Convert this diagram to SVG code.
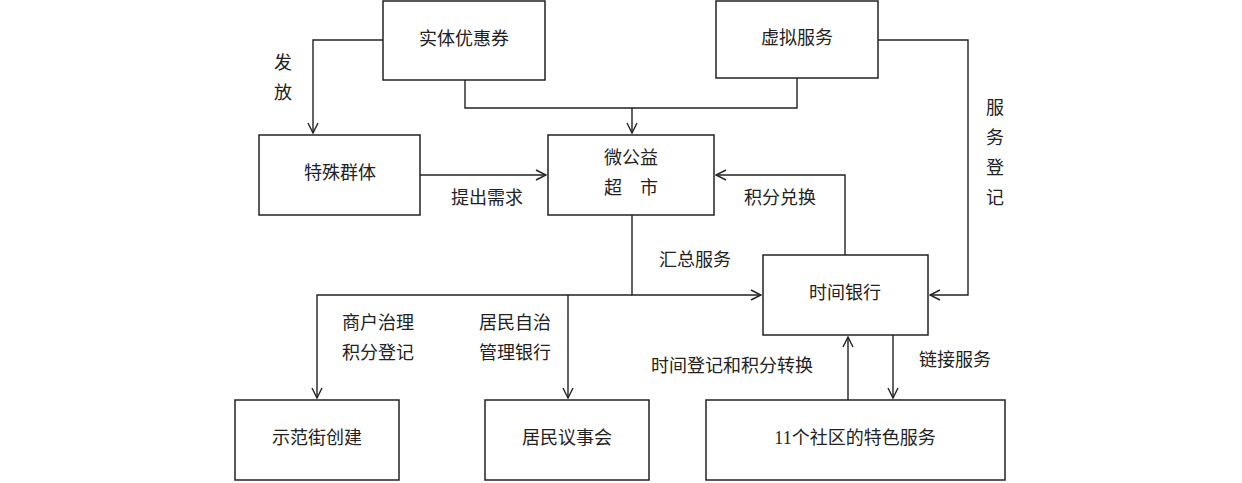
<svg xmlns="http://www.w3.org/2000/svg" width="1242" height="483" viewBox="0 0 1242 483">
<defs>
<marker id="a" viewBox="0 0 12 12" refX="11" refY="6" markerWidth="12" markerHeight="12" markerUnits="userSpaceOnUse" orient="auto"><path d="M1,1 L11,6 L1,11" fill="none" stroke="#222" stroke-width="1.4"/></marker>
<style>
rect{fill:#fff;stroke:#222;stroke-width:1.5}
text{font-family:"Liberation Serif","Noto Sans CJK SC",serif;font-size:18px;fill:#222;text-anchor:middle;dominant-baseline:middle}
.c path{fill:none;stroke:#222;stroke-width:1.4}
.c path.ar{marker-end:url(#a)}
</style>
</defs>
<rect x="0" y="0" width="1242" height="483" style="fill:#fff;stroke:none"/>
<g id="n1"><rect x="383" y="1" width="162" height="79"/><text x="464" y="41">实体优惠券</text></g>
<g id="n2"><rect x="716" y="1" width="162" height="77"/><text x="797" y="40">虚拟服务</text></g>
<g id="n3"><rect x="259" y="135" width="161" height="80"/><text x="340" y="175">特殊群体</text></g>
<g id="n4"><rect x="548" y="135" width="166" height="80"/><text x="631" y="160">微公益</text><text x="631" y="190">超　市</text></g>
<g id="n5"><rect x="763" y="255" width="165" height="80"/><text x="845" y="295">时间银行</text></g>
<g id="n6"><rect x="235" y="400" width="164" height="80"/><text x="317" y="440">示范街创建</text></g>
<g id="n7"><rect x="485" y="400" width="164" height="80"/><text x="567" y="440">居民议事会</text></g>
<g id="n8"><rect x="706" y="400" width="299" height="80"/><text x="855" y="440">11个社区的特色服务</text></g>
<g class="c" id="connectors">
<path class="ar" d="M383,40 H313 V133"/>
<path d="M465,80 V108 H797 V78"/>
<path class="ar" d="M632,108 V133"/>
<path class="ar" d="M878,40 H968 V295 H930"/>
<path class="ar" d="M420,175 H546"/>
<path class="ar" d="M845,255 V175 H716"/>
<path class="ar" d="M632,215 V295 H761"/>
<path class="ar" d="M632,295 H317 V398"/>
<path class="ar" d="M568,295 V398"/>
<path class="ar" d="M848,400 V337"/>
<path class="ar" d="M893,335 V398"/>
<text x="283" y="65">发</text><text x="283" y="95">放</text>
<text x="995" y="110">服</text><text x="995" y="140">务</text><text x="995" y="170">登</text><text x="995" y="200">记</text>
<text x="487" y="200">提出需求</text>
<text x="780" y="200">积分兑换</text>
<text x="695" y="262">汇总服务</text>
<text x="378" y="325">商户治理</text><text x="378" y="355">积分登记</text>
<text x="515" y="325">居民自治</text><text x="515" y="355">管理银行</text>
<text x="732" y="368">时间登记和积分转换</text>
<text x="955" y="362">链接服务</text>
</g>
</svg>
